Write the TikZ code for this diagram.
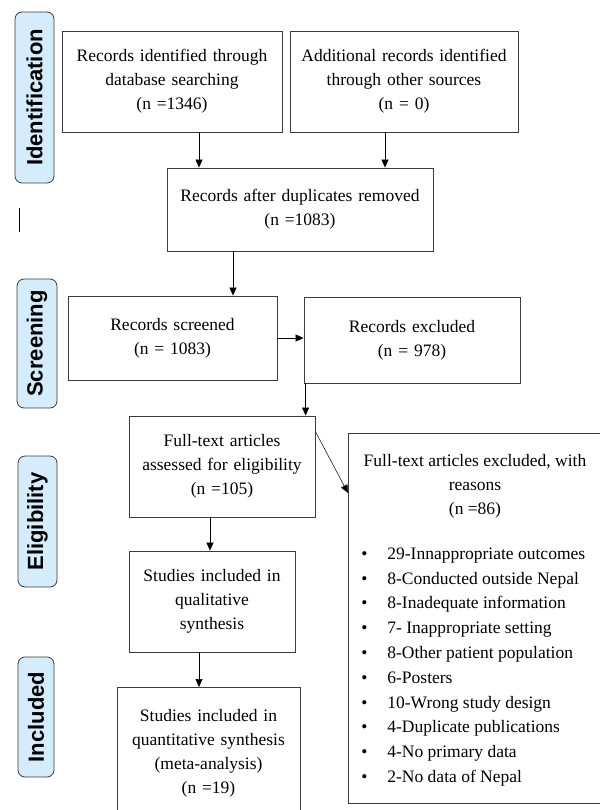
\documentclass[tikz,border=0pt]{standalone}
\usepackage{fontspec}
\setmainfont{Liberation Serif}
\newfontfamily\stagefont{Liberation Sans}
\usetikzlibrary{arrows.meta,positioning}

\definecolor{stagefill}{RGB}{212,236,251}
\definecolor{framegray}{RGB}{60,60,60}

\tikzset{
	box/.style={draw=framegray, line width=0.8pt, align=center, inner sep=4pt,
		font=\fontsize{17.5}{24}\selectfont},
	stage/.style={draw=framegray, line width=0.8pt, fill=stagefill, rounded corners=7pt,
		rotate=90, inner sep=0pt, font=\stagefont\bfseries\fontsize{22}{26}\selectfont},
	arr/.style={-{Triangle[length=8pt,width=7pt]}, line width=0.7pt}
}

\begin{document}
\begin{tikzpicture}[x=1pt,y=1pt,yscale=-1,xscale=1]
	\useasboundingbox (0,0) rectangle (599,810);
	% stage labels
	\node[stage, minimum width=171, minimum height=39] (ident) at (34.5,97.5) {Identification};
	\node[stage, minimum width=129, minimum height=40] (screen) at (37,343.5) {Screening};
	\node[stage, minimum width=131, minimum height=39] (elig) at (37.5,521.5) {Eligibility};
	\node[stage, minimum width=120, minimum height=36] (incl) at (36,717) {Included};
	\draw [line width=0.8pt] (19,208) -- (19,232);
	% identification
	\node[box, text width=212, minimum height=101] (dbrec) at (172,81.5) {Records identified through\\ database searching\\ (n =1346)};
	\node[box, text width=220, minimum height=101] (otherrec) at (404,81.5) {Additional records identified\\ through other sources\\ (n = 0)};
	\node[box, text width=258, minimum height=83] (dedup) at (300,209.5) {Records after duplicates removed\\ (n =1083)};
	% screening
	\node[box, text width=201, minimum height=84] (screened) at (172.5,338) {Records screened\\ (n = 1083)};
	\node[box, text width=208, minimum height=86] (excl) at (412,340) {Records excluded\\ (n = 978)};
	% eligibility
	\node[box, text width=178, minimum height=101] (fulltext) at (222,466.5) {Full-text articles\\ assessed for eligibility\\ (n =105)};
	\node[box, minimum width=262, minimum height=370, anchor=north west] (ftexcl) at (348,433) {};
	\node[box, draw=none, inner sep=0pt] (ftexhead) at (475,486) {Full-text articles excluded, with\\ reasons\\ (n =86)};
	\node[box, draw=none, inner sep=0pt, align=left, anchor=west, font=\fontsize{17.5}{24.8}\selectfont] (ftexlist) at (361,667) {%
		\makebox[26pt][l]{\textbullet}29-Innappropriate outcomes\\
		\makebox[26pt][l]{\textbullet}8-Conducted outside Nepal\\
		\makebox[26pt][l]{\textbullet}8-Inadequate information\\
		\makebox[26pt][l]{\textbullet}7- Inappropriate setting\\
		\makebox[26pt][l]{\textbullet}8-Other patient population\\
		\makebox[26pt][l]{\textbullet}6-Posters\\
		\makebox[26pt][l]{\textbullet}10-Wrong study design\\
		\makebox[26pt][l]{\textbullet}4-Duplicate publications\\
		\makebox[26pt][l]{\textbullet}4-No primary data\\
		\makebox[26pt][l]{\textbullet}2-No data of Nepal};
	% included
	\node[box, text width=158, minimum height=101] (qual) at (212,601.5) {Studies included in\\ qualitative\\ synthesis};
	\node[box, text width=175, inner ysep=14pt, minimum height=132, anchor=north] (quant) at (208.5,687) {Studies included in\\ quantitative synthesis\\ (meta-analysis)\\ (n =19)};
	% arrows
	\draw[arr] ([xshift=27]dbrec.south) -- ([xshift=27]dbrec.south |- dedup.north);
	\draw[arr] ([xshift=-19]otherrec.south) -- ([xshift=-19]otherrec.south |- dedup.north);
	\draw[arr] ([xshift=-67]dedup.south) -- ([xshift=-67]dedup.south |- screened.north);
	\draw[arr] (screened.east) -- (screened.east -| excl.west);
	\draw[arr] ([xshift=2]excl.south west) -- ([xshift=2]excl.south west |- fulltext.north);
	\draw[arr, line width=0.5pt] ([yshift=16]fulltext.north east) -- ([yshift=60]ftexcl.north west);
	\draw[arr] ([xshift=-12]fulltext.south) -- ([xshift=-12]fulltext.south |- qual.north);
	\draw[arr] ([xshift=-13]qual.south) -- ([xshift=-13]qual.south |- quant.north);
\end{tikzpicture}
\end{document}
